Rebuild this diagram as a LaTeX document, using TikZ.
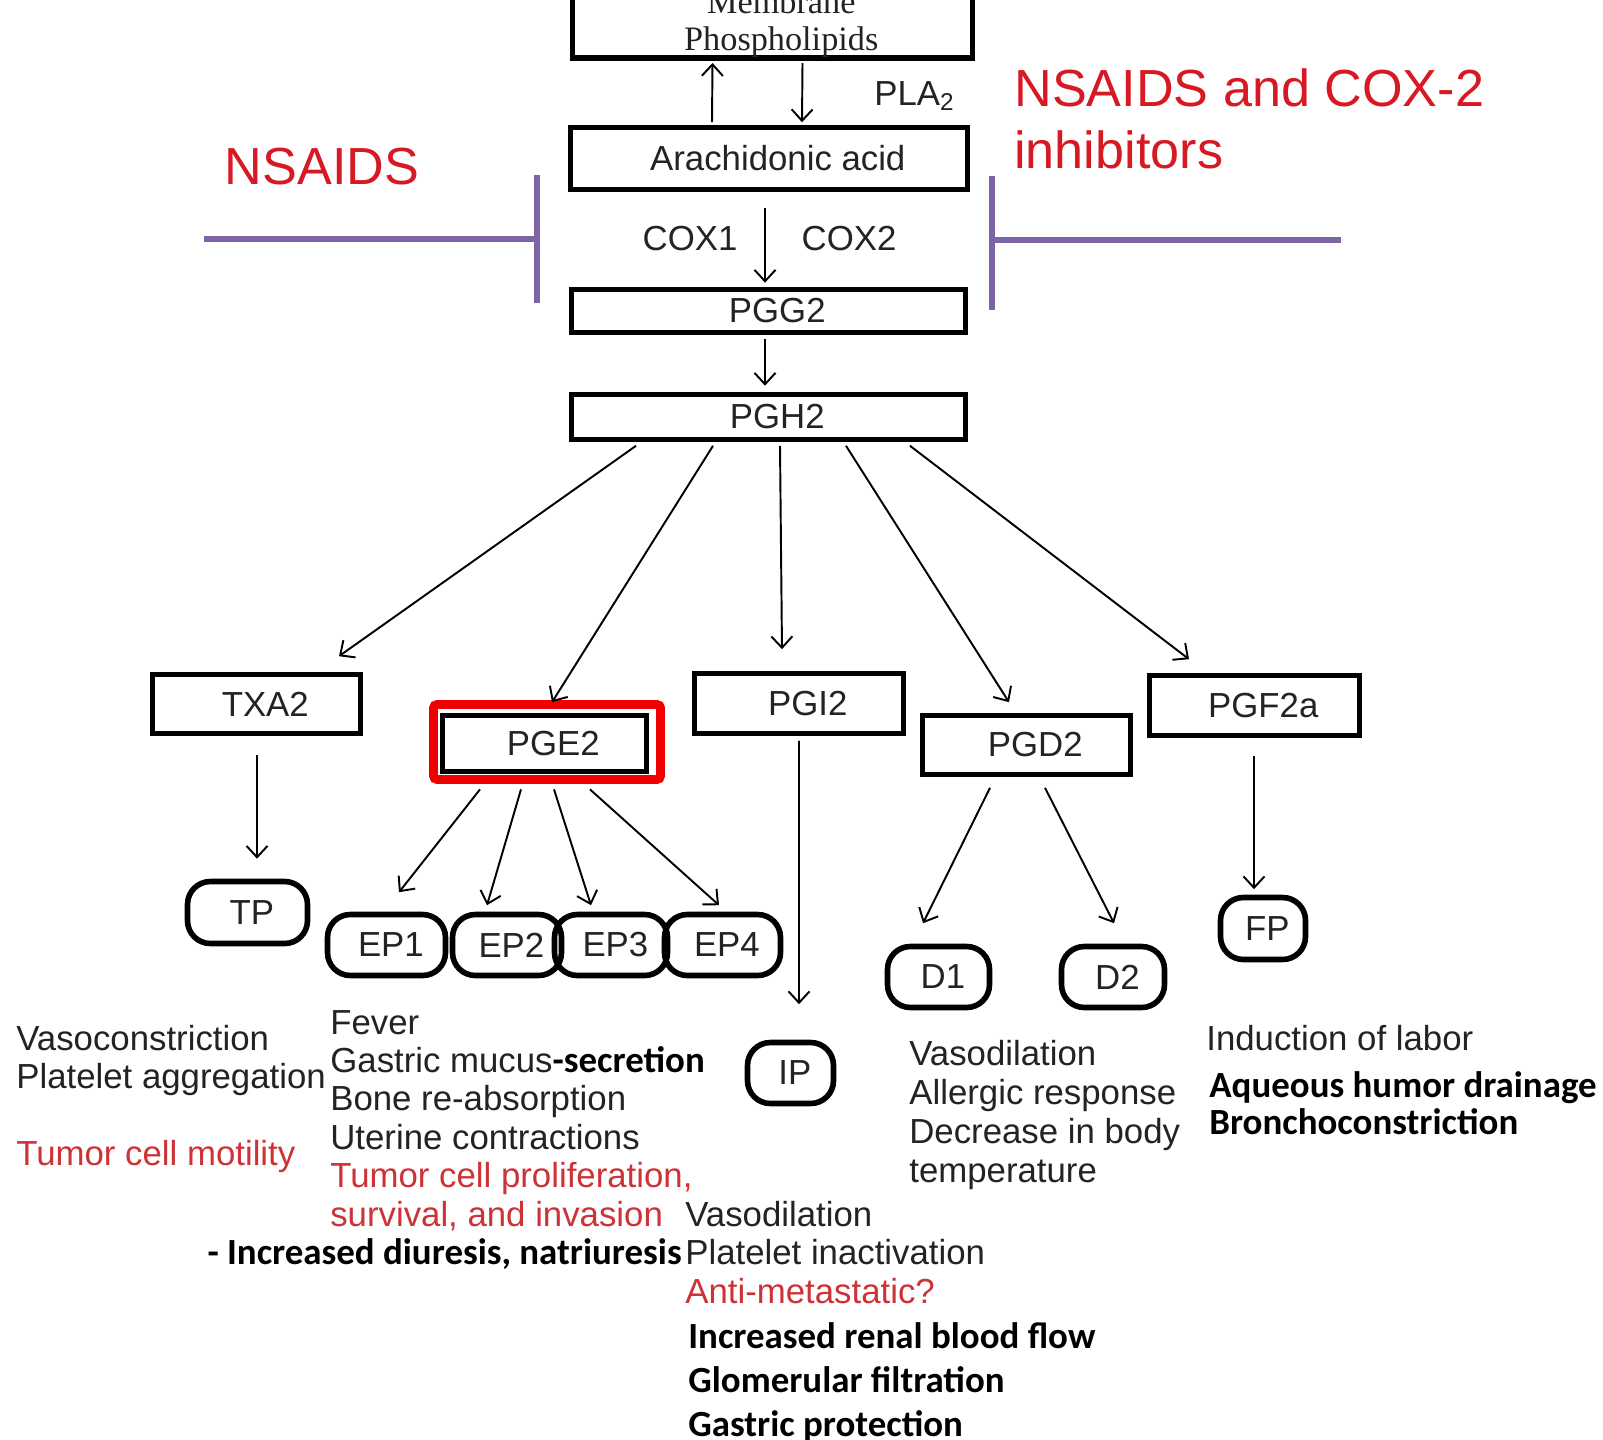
\documentclass[tikz,border=0pt]{standalone}
\usepackage{fontspec}
\setmainfont{Liberation Sans}
\newfontfamily\serifbox{Liberation Serif}
\newfontfamily\calibri{Carlito}
\usetikzlibrary{arrows.meta,calc}

\definecolor{nsred}{RGB}{215,25,35}
\definecolor{tumred}{RGB}{205,50,55}
\definecolor{inhpurple}{RGB}{125,100,165}
\definecolor{txtgray}{RGB}{35,35,35}
\definecolor{frred}{RGB}{240,0,0}

\newcommand{\fsz}{\fontsize{19.8}{23}\selectfont}
\newcommand{\bsz}{\calibri\bfseries\fontsize{21}{25}\selectfont}

\begin{document}
\begin{tikzpicture}[x=0.02cm, y=-0.02cm,
    >={Straight Barb[length=6.5pt,width=12pt]},
    box/.style={draw, line width=3.2pt, inner sep=0pt, text=txtgray, font=\fsz,
        execute at begin node={\hspace*{10pt}}},
    rbox/.style={draw, line width=3.2pt, rounded corners=13pt, inner sep=0pt, minimum height=1.22cm, text=txtgray, font=\fsz,
        execute at begin node={\hspace*{5pt}}},
    conn/.style={->, line width=1.1pt},
    inhib/.style={draw=inhpurple, line width=3.2pt},
    eff/.style={anchor=base west, inner sep=0pt, text=txtgray, font=\fsz},
    red eff/.style={eff, text=tumred},
    bold eff/.style={anchor=base west, inner sep=0pt, text=black, font=\bsz}]
    \useasboundingbox (0,0) rectangle (1603,1440);

    % main pathway
    \node[box, font=\serifbox\fontsize{19.5}{21}\selectfont, align=center, anchor=south, minimum width=8cm, inner ysep=0pt,
        execute at begin node={}] (memb) at (772.5,60.5) {Membrane\\Phospholipids};
    \node[box, minimum width=7.94cm, minimum height=1.24cm] (arach) at (769,158.5) {Arachidonic acid};
    \node[box, minimum width=7.88cm, minimum height=0.86cm] (pgg) at (768.5,311) {PGG2};
    \node[box, minimum width=7.88cm, minimum height=0.9cm] (pgh) at (768.5,417) {PGH2};

    \node[anchor=base west, inner sep=0pt, text=txtgray, font=\fsz] (pla) at (874,105) {PLA\textsubscript{2}};
    \node[anchor=base, inner sep=0pt, text=txtgray, font=\fsz] (cox1) at (690,250) {COX1};
    \node[anchor=base, inner sep=0pt, text=txtgray, font=\fsz] (cox2) at (849,250) {COX2};

    % inhibitors
    \node[anchor=base, inner sep=0pt, text=nsred, font=\fontsize{29.7}{35}\selectfont] (nsaid) at (322,184) {NSAIDS};
    \node[anchor=base west, inner sep=0pt, text=nsred, font=\fontsize{29.7}{35}\selectfont] (coxinh1) at (1014,106) {NSAIDS and COX-2};
    \node[anchor=base west, inner sep=0pt, text=nsred, font=\fontsize{29.7}{35}\selectfont] (coxinh2) at (1014,168) {inhibitors};
    \coordinate (nsfree) at (204,239);
    \coordinate (nsbar) at (537,239);
    \coordinate (coxfree) at (1341,240);
    \coordinate (coxbar) at (992,240);
    \draw[inhib] (nsfree) -- (nsbar);
    \draw[inhib] ($(nsbar)+(0,-64)$) -- ($(nsbar)+(0,64)$);
    \draw[inhib] (coxfree) -- (coxbar);
    \draw[inhib] ($(coxbar)+(0,-64)$) -- ($(coxbar)+(0,70)$);

    % prostanoids
    \node[box, minimum width=4.16cm, minimum height=1.18cm] (txa) at (256.5,704) {TXA2};
    \node[box, minimum width=4.08cm, minimum height=1.12cm] (pge) at (544.5,743.5) {PGE2};
    \node[draw=frred, line width=5pt, rounded corners=2pt, minimum width=4.54cm, minimum height=1.5cm] (pgeframe) at (547,742) {};
    \node[box, minimum width=4.18cm, minimum height=1.2cm] (pgi) at (799,703.5) {PGI2};
    \node[box, minimum width=4.16cm, minimum height=1.18cm] (pgd) at (1026.5,745) {PGD2};
    \node[box, minimum width=4.2cm, minimum height=1.2cm] (pgf) at (1254.5,705.5) {PGF2a};

    % receptors
    \node[rbox, minimum width=2.4cm, minimum height=1.24cm] (tp) at (247.5,912.5) {TP};
    \node[rbox, minimum width=2.36cm] (ep1) at (386.5,945) {EP1};
    \node[rbox, minimum width=2.18cm] (ep2) at (507,945) {EP2};
    \node[rbox, minimum width=2.26cm] (ep3) at (611,945) {EP3};
    \node[rbox, minimum width=2.32cm] (ep4) at (722.5,945) {EP4};
    \node[rbox, minimum width=1.72cm] (ip) at (790.5,1073) {IP};
    \node[rbox, minimum width=2.04cm] (d1) at (938.5,977) {D1};
    \node[rbox, minimum width=2.06cm] (d2) at (1113,977) {D2};
    \node[rbox, minimum width=1.7cm, minimum height=1.24cm] (fp) at (1263,928.5) {FP};

    % arrows
    \draw[conn] ($(arach.north)+(-57,-2.5)$) -- ($(memb.south)+(-60,2.5)$);
    \draw[conn] ($(memb.south)+(30,2.5)$) -- ($(arach.north)+(33,-2.5)$);
    \draw[conn] ($(arach.south)+(-4,16)$) -- ($(pgg.north)+(-3.5,-4)$);
    \draw[conn] ($(pgg.south)+(-3.5,4)$) -- ($(pgh.north)+(-3.5,-6)$);
    \draw[conn] ($(pgh.south)+(-132.5,3.5)$) -- ($(txa.north)+(82.5,-15.5)$);
    \draw[conn] ($(pgh.south)+(-55.5,3.5)$) -- ($(pge.north)+(7.5,-10.5)$);
    \draw[conn] ($(pgh.south)+(11.5,3.5)$) -- ($(pgi.north)+(-17,-21.5)$);
    \draw[conn] ($(pgh.south)+(77.5,3.5)$) -- ($(pgd.north)+(-17.5,-10.5)$);
    \draw[conn] ($(pgh.south)+(141.5,3.5)$) -- ($(pgf.north)+(-65.5,-13.5)$);
    \draw[conn] ($(txa.south)+(0.5,19)$) -- ($(tp.north)+(9.5,-20)$);
    \foreach \ep/\dx/\ex/\ey in {ep1/-67/12.5/-19.5, ep2/-26/-20/-6.5, ep3/7/-20/-6.5, ep4/43/-3.5/-6.5}
        \draw[conn] ($(pgeframe.south)+(\dx,5.5)$) -- ($(\ep.north)+(\ex,\ey)$);
    \draw[conn] ($(pgi.south)+(0,4.5)$) -- ($(ip.north)+(8.5,-35.5)$);
    \draw[conn] ($(pgd.south)+(-36.5,10.5)$) -- ($(d1.north)+(-15.5,-20.5)$);
    \draw[conn] ($(pgd.south)+(18.5,10.5)$) -- ($(d2.north)+(1,-20.5)$);
    \draw[conn] ($(pgf.south)+(-0.5,17.5)$) -- ($(fp.north)+(-9,-5.5)$);

    % effects
    \foreach \t [count=\i from 0] in {Vasoconstriction, Platelet aggregation}
        \node[eff] (txaeff\i) at (16,1050+38*\i) {\t};
    \node[red eff] (txatum) at (16,1165) {Tumor cell motility};

    \foreach \t [count=\i from 0] in {Fever, {Gastric mucus{\bsz\color{black}-secretion}}, Bone re-absorption, Uterine contractions}
        \node[eff] (pgeeff\i) at (330,1034+38.4*\i) {\t};
    \node[red eff] (pgetum0) at (330,1187.6) {Tumor cell proliferation,};
    \node[red eff] (pgetum1) at (330,1226) {survival, and invasion};
    \node[bold eff, anchor=base east] (diur) at (682,1264) {- Increased diuresis, natriuresis};

    \foreach \t [count=\i from 0] in {Vasodilation, Platelet inactivation}
        \node[eff] (pgieff\i) at (685,1226+38*\i) {\t};
    \node[red eff] (pgitum) at (685,1303) {Anti-metastatic?};
    \foreach \t [count=\i from 0] in {Increased renal blood flow, Glomerular filtration, Gastric protection}
        \node[bold eff] (renal\i) at (688,1348+44*\i) {\t};

    \foreach \t [count=\i from 0] in {Vasodilation, Allergic response, Decrease in body, temperature}
        \node[eff] (pgdeff\i) at (909,1065+39*\i) {\t};

    \node[eff] (pgfeff) at (1206,1050) {Induction of labor};
    \foreach \t [count=\i from 0] in {Aqueous humor drainage, Bronchoconstriction}
        \node[bold eff] (pgfbold\i) at (1209,1097+37*\i) {\t};
\end{tikzpicture}
\end{document}
